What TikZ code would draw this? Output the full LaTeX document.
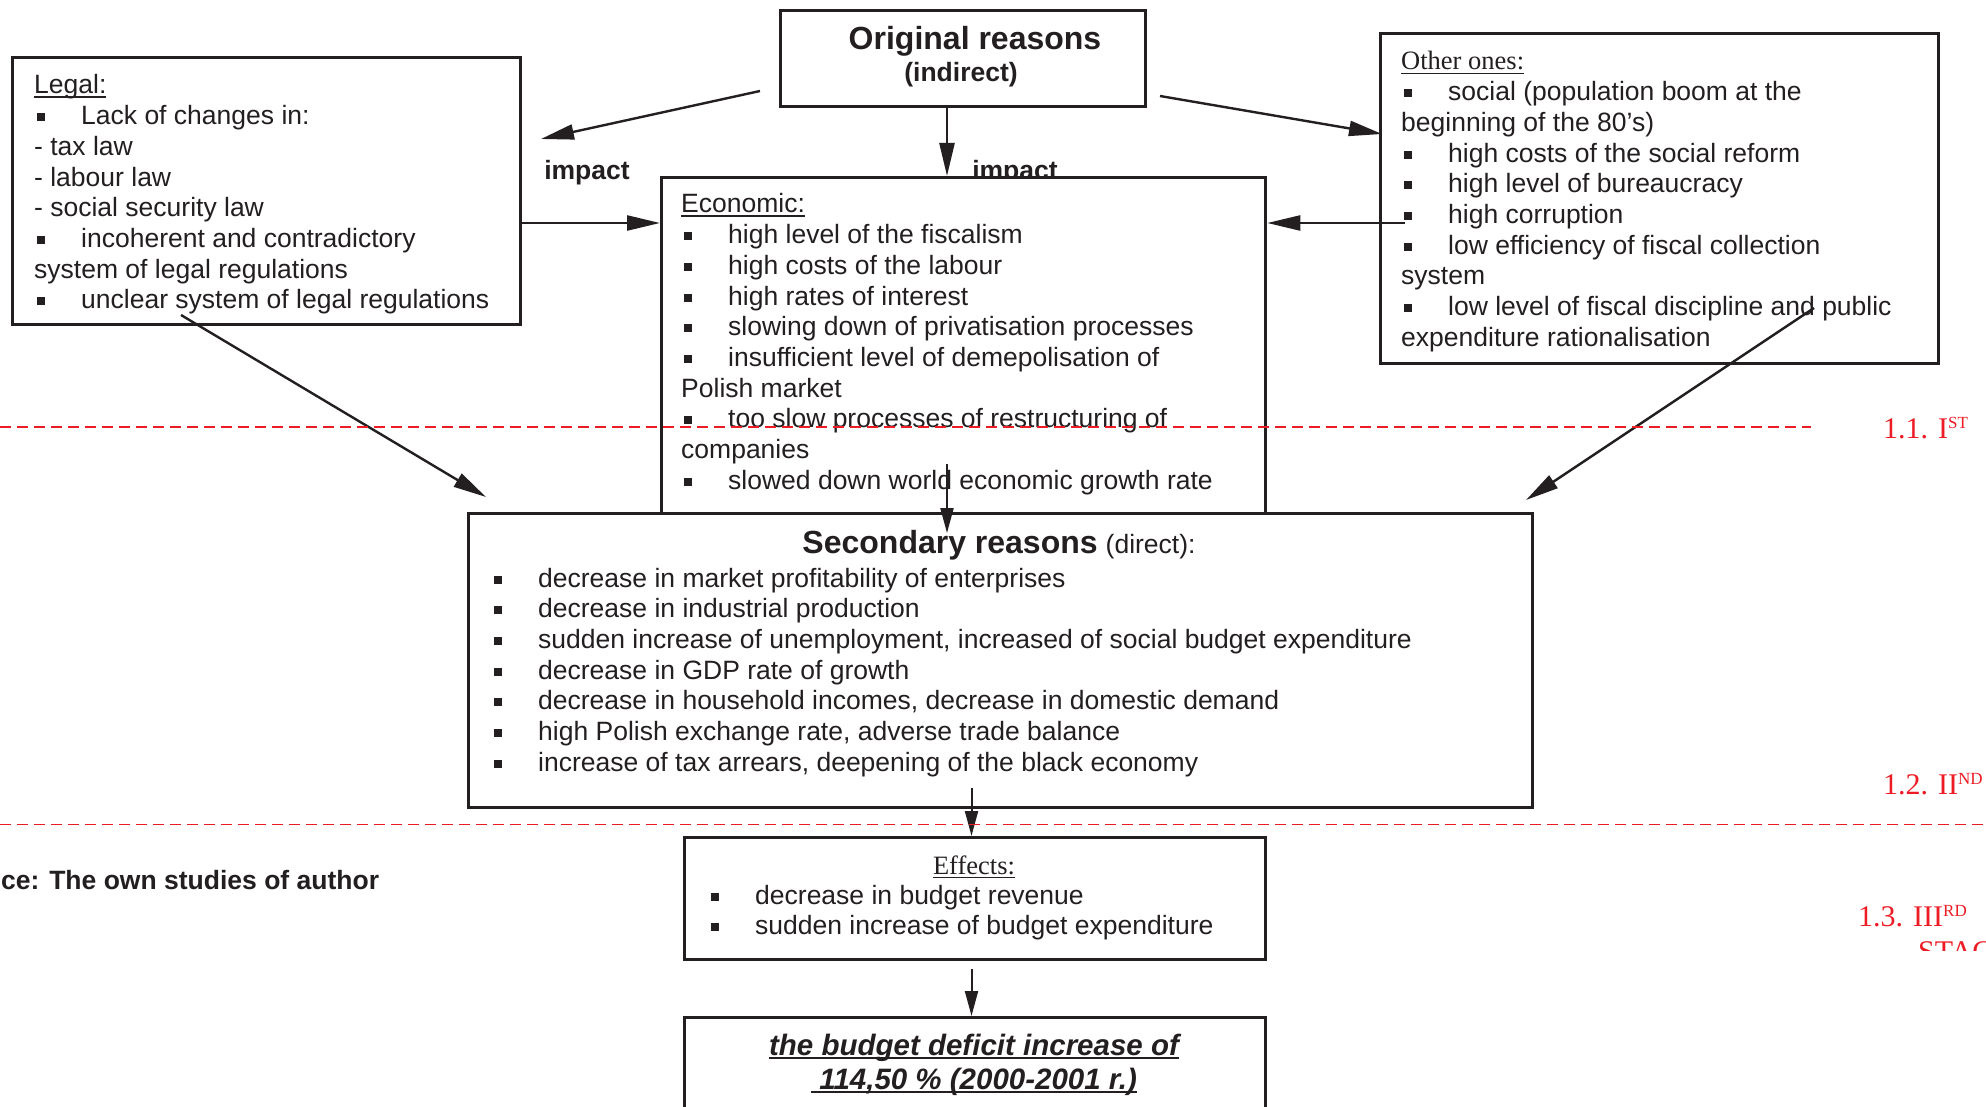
\documentclass[tikz,border=0pt]{standalone}
\usepackage{fontspec}
\setmainfont{Liberation Sans}
\newfontfamily\tms{Liberation Serif}
\usetikzlibrary{arrows.meta}
\definecolor{ink}{RGB}{35,31,32}
\definecolor{redl}{RGB}{237,28,36}
\newcommand\sqb{\makebox[47pt][l]{\hspace{3pt}\rule[3.5pt]{8pt}{8pt}}}
\newcommand\ulin[2][1.6pt]{\leavevmode\setbox0\hbox{#2}\rlap{\rule[-4pt]{\wd0}{#1}}\box0}
\newcommand\sups[1]{\raisebox{10pt}{\fontsize{17}{17}\selectfont #1}}
\newcommand\bodyfont{\fontsize{26.5}{30.7}\selectfont}
\begin{document}
\begin{tikzpicture}[x=1pt,y=-1pt,
  box/.style={draw=ink, line width=3.3pt, fill=white, inner sep=0pt, anchor=north west},
  txt/.style={inner sep=0pt, anchor=base west, text=ink},
  arr/.style={draw=ink, line width=2.4pt, -{Triangle[length=33pt,width=15pt]}},
  arrs/.style={draw=ink, line width=2pt, -{Triangle[length=25pt,width=13pt]}},
  redd/.style={draw=redl, line width=1.6pt, dash pattern=on 11pt off 6pt},
  redt/.style={inner sep=0pt, anchor=base west, text=redl, font=\tms\fontsize{30}{34}\selectfont}]
\useasboundingbox (0,0) rectangle (1986,1107);
\fill[white] (0,0) rectangle (1986,1107);

% label under the economic box top edge
\node[txt, anchor=base] (imp2) at (1015,180) {\bodyfont\bfseries impact};

% boxes
\node[box, minimum width=508pt, minimum height=267pt] (legal) at (11,56) {};
\node[box, minimum width=365pt, minimum height=96pt] (orig) at (779,9) {};
\node[box, minimum width=558pt, minimum height=330pt] (other) at (1379,32) {};
\node[box, minimum width=604pt, minimum height=336pt] (econ) at (660,176) {};
\node[box, minimum width=1064pt, minimum height=294pt] (sec) at (467,512) {};
\node[box, minimum width=581pt, minimum height=122pt] (eff) at (683,836) {};
\node[box, minimum width=581pt, minimum height=130pt] (bud) at (683,1016) {};

% texts
\node[txt, anchor=base] (origt1) at (975,50) {\fontsize{32}{36}\selectfont\bfseries Original reasons};
\node[txt, anchor=base] (origt2) at (961,82) {\bodyfont\bfseries (indirect)};
\node[txt, anchor=base] (imp1) at (587,180) {\bodyfont\bfseries impact};

\node[txt] (legaltx) at (34,94) {\parbox[t]{1000pt}{\bodyfont
\ulin{Legal:}\\
\sqb Lack of changes in:\\
- tax law\\
- labour law\\
- social security law\\
\sqb incoherent and contradictory\\
system of legal regulations\\
\sqb unclear system of legal regulations}};

\node[txt] (econtx) at (681,213) {\parbox[t]{1000pt}{\bodyfont
\ulin{Economic:}\\
\sqb high level of the fiscalism\\
\sqb high costs of the labour\\
\sqb high rates of interest\\
\sqb slowing down of privatisation processes\\
\sqb insufficient level of demepolisation of\\
Polish market\\
\sqb too slow processes of restructuring of\\
companies\\
\sqb slowed down world economic growth rate}};

\node[txt] (othertx) at (1401,70) {\parbox[t]{1000pt}{\bodyfont
{\tms\ulin[1.4pt]{Other ones:}}\\
\sqb social (population boom at the\\
beginning of the 80’s)\\
\sqb high costs of the social reform\\
\sqb high level of bureaucracy\\
\sqb high corruption\\
\sqb low efficiency of fiscal collection\\
system\\
\sqb low level of fiscal discipline and public\\
expenditure rationalisation}};

\node[txt, anchor=base] (sect) at (999,553) {{\fontsize{32}{36}\selectfont\bfseries Secondary reasons}\hspace{8pt}\bodyfont(direct):};
\node[txt] (sectx) at (491,587) {\parbox[t]{1000pt}{\bodyfont
\sqb decrease in market profitability of enterprises\\
\sqb decrease in industrial production\\
\sqb sudden increase of unemployment, increased of social budget expenditure\\
\sqb decrease in GDP rate of growth\\
\sqb decrease in household incomes, decrease in domestic demand\\
\sqb high Polish exchange rate, adverse trade balance\\
\sqb increase of tax arrears, deepening of the black economy}};

\node[txt, anchor=base] (efft) at (974,874) {\tms\bodyfont\ulin[1.4pt]{Effects:}};
\node[txt] (efftx) at (708,904) {\parbox[t]{1000pt}{\bodyfont
\sqb decrease in budget revenue\\
\sqb sudden increase of budget expenditure}};

\node[txt, anchor=base] (bud1) at (974,1055) {\fontsize{29.5}{34}\selectfont\bfseries\itshape\ulin[2.4pt]{the budget deficit increase of}};
\node[txt, anchor=base] (bud2) at (974,1089) {\fontsize{29.5}{34}\selectfont\bfseries\itshape\ulin[2.4pt]{\ 114,50 \% (2000-2001 r.)}};

\node[txt] (src) at (1,889) {\bodyfont\bfseries ce: The own studies of author};

% connectors
\coordinate (o1) at (760,91);
\coordinate (l1) at (541,139);
\coordinate (o2) at (1160,96);
\coordinate (r1) at (1382,134);
\coordinate (vx) at (947,0);
\coordinate (hy) at (0,223);
\coordinate (rs) at (1405,223);
\coordinate (ls) at (181,315);
\coordinate (le) at (486,497);
\coordinate (rs2) at (1814,308);
\coordinate (re2) at (1526,500);
\coordinate (es) at (947,464);
\coordinate (ee) at (947,533);
\coordinate (sx) at (971.5,788);
\coordinate (ex) at (971.5,969);

\draw[arr] (o1) -- (l1);
\draw[arr] (orig.south -| vx) -- (econ.north -| vx);
\draw[arr] (o2) -- (r1);
\draw[arr] (legal.east |- hy) -- (econ.west |- hy);
\draw[arr] (rs) -- (econ.east |- hy);
\draw[arr] (ls) -- (le);
\draw[arr] (rs2) -- (re2);
\draw[arrs] (es) -- (ee);
\draw[arrs] (sx) -- (eff.north -| sx);
\draw[arrs] (ex) -- (bud.north -| ex);

% stage lines and labels
\draw[redd] (0,427) -- (1811,427);
\draw[redd] (0,824.6) -- (1986,824.6);
\node[redt] (st1) at (1883,438) {1.1. I\sups{ST}};
\node[redt] (st2) at (1883,794) {1.2. II\sups{ND}};
\node[redt] (st3) at (1858,926) {1.3. III\sups{RD}};
\begin{scope}
\clip (1850,930) rectangle (1986,950);
\node[redt] (st3b) at (1918,961) {STAGE};
\end{scope}
\end{tikzpicture}
\end{document}
